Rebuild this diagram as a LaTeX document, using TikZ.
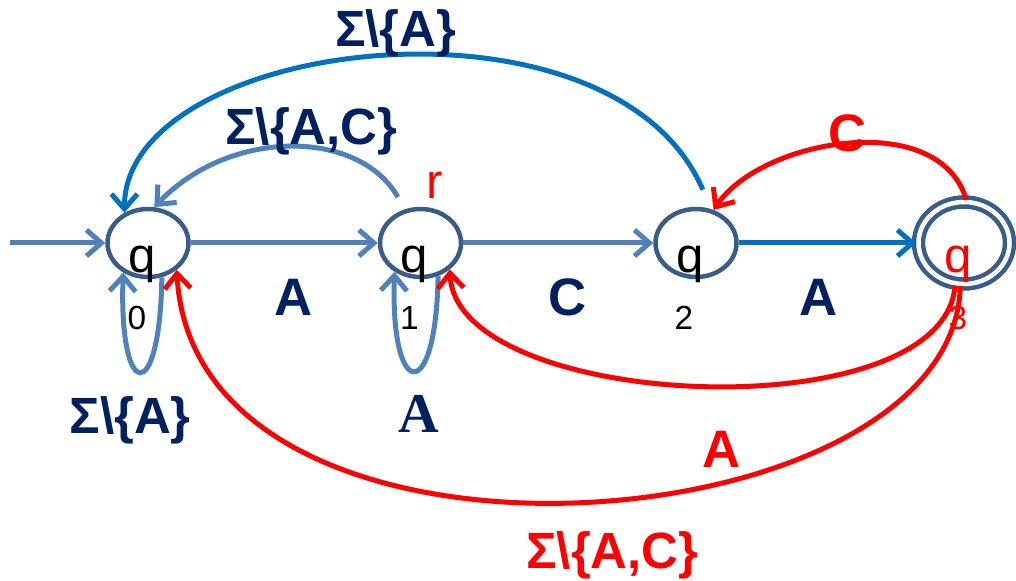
\documentclass[tikz,border=0pt]{standalone}
\usepackage{fontspec}
\setmainfont{Liberation Sans}
\newfontfamily\timesfont{Liberation Serif}
\usepackage{tikz}
\usetikzlibrary{shapes.geometric, arrows.meta, positioning, calc}
\definecolor{statebord}{RGB}{56, 93, 138}
\definecolor{edgeblue}{RGB}{79, 129, 189}
\definecolor{arcblue}{RGB}{0, 112, 192}
\definecolor{labnavy}{RGB}{0, 32, 96}
\definecolor{backred}{RGB}{255, 0, 0}
\newcommand{\qsym}{\raisebox{-0.6cm}[0pt][0pt]{\hspace{-0.24cm}q}}
\newcommand{\sigmin}[1]{Σ\textbackslash\{#1\}}

\begin{document}
\begin{tikzpicture}[
    node distance=3.8cm,
    state/.style={ellipse, draw=statebord, line width=0.09cm, inner sep=0pt,
                  minimum width=1.62cm, minimum height=1.36cm,
                  font=\fontsize{28}{28}\selectfont},
    accept/.style={state, double=white, double distance=0.09cm,
                   minimum width=1.82cm, minimum height=1.64cm},
    sub/.style={inner sep=0pt, font=\fontsize{19}{19}\selectfont},
    lab/.style={inner sep=0pt, text=labnavy, font=\fontsize{30}{30}\selectfont\bfseries},
    sig/.style={inner sep=0pt, text=labnavy, font=\fontsize{29}{29}\selectfont\bfseries},
    edge/.style={-{Straight Barb[length=0.3cm, width=0.52cm]}, line width=0.1cm, color=edgeblue},
    bedge/.style={edge, color=arcblue},
    redge/.style={edge, color=backred},
]
    \useasboundingbox (0,0) rectangle (20.32,11.6);

    \node[state] (q0) at (2.96,6.74) {\qsym};
    \node[state, right=3.74cm of q0] (q1) {\qsym};
    \node[state, right=3.80cm of q1] (q2) {\qsym};
    \node[accept, text=backred, right=3.55cm of q2] (q3) {\qsym};

    \node[sub] (i0) at ($(q0)+(-0.22,-1.5)$) {0};
    \node[sub] (i1) at ($(q1)+(-0.22,-1.5)$) {1};
    \node[sub] (i2) at ($(q2)+(-0.24,-1.5)$) {2};
    \node[sub, text=backred] (i3) at ($(q3)+(-0.12,-1.5)$) {3};
    \node[inner sep=0pt, text=backred, font=\fontsize{28}{28}\selectfont] (rr)
          at ($(q1)+(0.28,1.16)$) {r};

    \coordinate[left=1.9cm of q0] (init);
    \draw[edge] (init) -- (q0);
    \draw[edge] (q0) -- node[lab, pos=0.55, yshift=-1.08cm] {A} (q1);
    \draw[edge] (q1) -- node[lab, pos=0.55, yshift=-1.08cm] {C} (q2);
    \draw[bedge] (q2) -- node[lab, pos=0.45, yshift=-1.08cm] {A} (q3);

    % self loops
    \draw[edge] (q0.-68) .. controls +(-0.04,-2.6) and +(-0.09,-2.58) ..
          node[sig, pos=0.5, xshift=-0.2cm, yshift=-0.96cm] {\sigmin{A}} (q0.-130);
    \draw[edge] (q1.-62) .. controls +(-0.04,-2.6) and +(-0.09,-2.58) ..
          node[lab, pos=0.5, xshift=0.1cm, yshift=-0.86cm,
               font=\fontsize{32}{32}\selectfont\timesfont\bfseries] {A} (q1.-132);

    % back edges
    \draw[edge, shorten <=0.28cm] (q1.115) .. controls +(-0.92,1.62) and +(1.5,1.58) ..
          node[sig, pos=0.5, xshift=0.42cm, yshift=0.34cm] {\sigmin{A,C}} (q0.80);
    \draw[bedge, shorten <=0.42cm] (q2.66) .. controls +(-1.98,4.62) and +(0,3.5) ..
          node[sig, pos=0.5, xshift=0.3cm, yshift=0.5cm] {\sigmin{A}} (q0.128);
    \draw[redge] (q3.87) .. controls +(-0.54,1.84) and +(0.96,1.42) ..
          node[lab, text=backred, pos=0.5, yshift=0.2cm] {C} (q2.62);
    \draw[redge] (q3.-102) .. controls +(-0.2,-2.94) and +(0.14,-2.84) ..
          node[lab, text=backred, pos=0.5, xshift=0.4cm, yshift=-1.28cm] {A} (q1.-42);
    \draw[redge] (q3.-95) .. controls +(-0.1,-5.22) and +(0.36,-6.74) ..
          node[sig, text=backred, pos=0.5, xshift=0.78cm, yshift=-1.06cm] {\sigmin{A,C}} (q0.-43);
\end{tikzpicture}
\end{document}
